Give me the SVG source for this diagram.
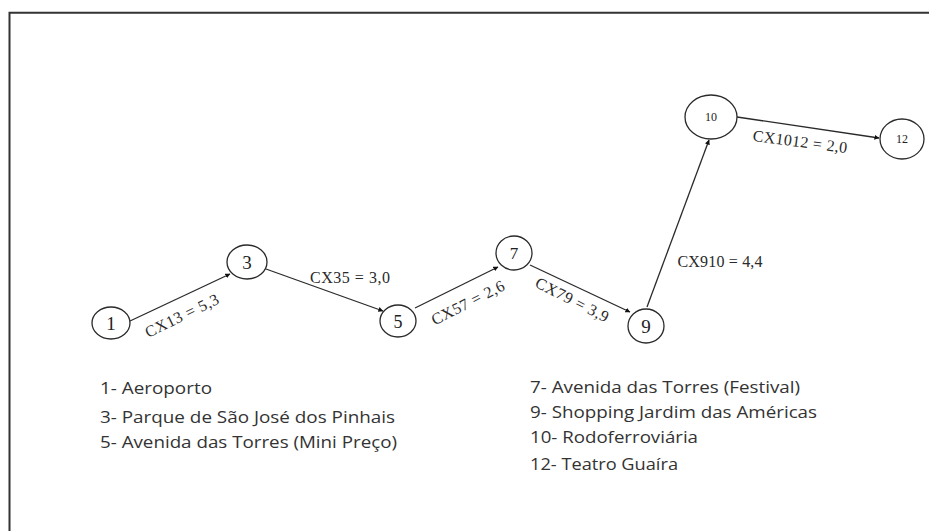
<svg xmlns="http://www.w3.org/2000/svg" width="929" height="531" viewBox="0 0 929 531">
  <style>
    .node ellipse { fill: #ffffff; stroke: #2a2a2a; stroke-width: 1.3; }
    .num { font-family: "Liberation Serif", "Times New Roman", serif; fill: #222; text-anchor: middle; }
    .edge { stroke: #2a2a2a; stroke-width: 1.3; fill: none; marker-end: url(#tip); }
    .lbl { font-family: "Liberation Serif", "Times New Roman", serif; font-size: 16px; fill: #2a2a2a; text-anchor: middle; }
    .legend { font-family: "Open Sans", "Liberation Sans", Arial, sans-serif; font-size: 16px; fill: #333; }
  </style>
  <defs>
    <marker id="tip" viewBox="0 0 6 6" refX="5.5" refY="3" markerWidth="5" markerHeight="5" markerUnits="userSpaceOnUse" orient="auto">
      <path d="M0,0 L6,3 L0,6 z" fill="#111"/>
    </marker>
  </defs>

  <rect x="0" y="0" width="929" height="531" fill="#ffffff"/>
  <!-- frame: left and top edges -->
  <path d="M9.5,531 L9.5,12.8 L929,12.8" fill="none" stroke="#333" stroke-width="2"/>

  <!-- connectors -->
  <g id="connectors">
    <line class="edge" x1="130" y1="321" x2="230" y2="274"/>
    <line class="edge" x1="266" y1="269" x2="383" y2="311"/>
    <line class="edge" x1="415" y1="308" x2="498" y2="267"/>
    <line class="edge" x1="530" y1="265" x2="630" y2="312"/>
    <line class="edge" x1="647" y1="307" x2="709" y2="140"/>
    <line class="edge" x1="737" y1="117" x2="879" y2="138"/>

    <text class="lbl" transform="translate(182,316) rotate(-26)" y="5" textLength="80">CX13 = 5,3</text>
    <text class="lbl" x="350" y="283" textLength="80">CX35 = 3,0</text>
    <text class="lbl" transform="translate(468,303) rotate(-27)" y="5" textLength="80">CX57 = 2,6</text>
    <text class="lbl" transform="translate(572,300) rotate(27)" y="5" textLength="80">CX79 = 3,9</text>
    <text class="lbl" x="720" y="267" textLength="85">CX910 = 4,4</text>
    <text class="lbl" transform="translate(800,142) rotate(7.5)" y="5" textLength="95">CX1012 = 2,0</text>
  </g>

  <!-- nodes -->
  <g id="node-1" class="node">
    <ellipse cx="111" cy="323" rx="19" ry="16"/>
    <text class="num" x="111" y="330" font-size="19">1</text>
  </g>
  <g id="node-3" class="node">
    <ellipse cx="247" cy="262" rx="20" ry="17"/>
    <text class="num" x="247" y="269" font-size="19">3</text>
  </g>
  <g id="node-5" class="node">
    <ellipse cx="398" cy="321" rx="18" ry="16"/>
    <text class="num" x="398" y="328" font-size="18">5</text>
  </g>
  <g id="node-7" class="node">
    <ellipse cx="514" cy="253" rx="18" ry="17"/>
    <text class="num" x="514" y="259" font-size="17">7</text>
  </g>
  <g id="node-9" class="node">
    <ellipse cx="646" cy="326" rx="18" ry="17"/>
    <text class="num" x="646" y="333" font-size="19">9</text>
  </g>
  <g id="node-10" class="node">
    <ellipse cx="711" cy="117" rx="26" ry="22"/>
    <text class="num" x="711" y="121" font-size="12">10</text>
  </g>
  <g id="node-12" class="node">
    <ellipse cx="902" cy="139" rx="22" ry="20"/>
    <text class="num" x="902" y="143" font-size="12">12</text>
  </g>

  <!-- legend -->
  <g id="legend-left">
    <text class="legend" x="100" y="394" textLength="112" lengthAdjust="spacingAndGlyphs">1- Aeroporto</text>
    <text class="legend" x="100" y="423" textLength="295" lengthAdjust="spacingAndGlyphs">3- Parque de São José dos Pinhais</text>
    <text class="legend" x="100" y="448" textLength="297" lengthAdjust="spacingAndGlyphs">5- Avenida das Torres (Mini Preço)</text>
  </g>
  <g id="legend-right">
    <text class="legend" x="530" y="393" textLength="270" lengthAdjust="spacingAndGlyphs">7- Avenida das Torres (Festival)</text>
    <text class="legend" x="530" y="418" textLength="287" lengthAdjust="spacingAndGlyphs">9- Shopping Jardim das Américas</text>
    <text class="legend" x="530" y="443" textLength="168" lengthAdjust="spacingAndGlyphs">10- Rodoferroviária</text>
    <text class="legend" x="530" y="470" textLength="148" lengthAdjust="spacingAndGlyphs">12- Teatro Guaíra</text>
  </g>
</svg>
